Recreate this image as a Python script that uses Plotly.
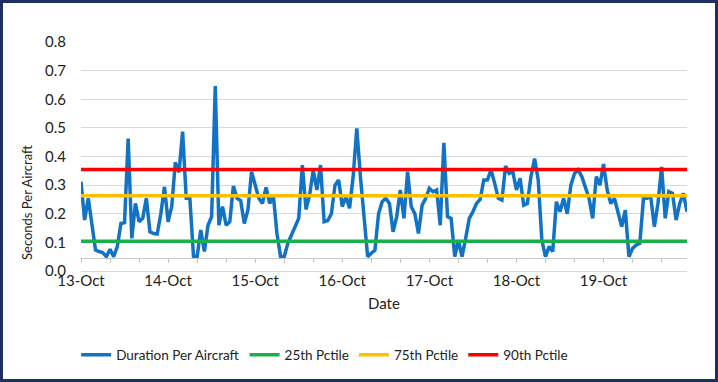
import plotly.graph_objects as go
import pandas as pd

# Hourly values, 13-Oct 00:00 to 19-Oct 23:00
duration = [
    0.312, 0.178, 0.254, 0.155, 0.073, 0.068, 0.064, 0.050, 0.076, 0.050,
    0.085, 0.166, 0.169, 0.463, 0.114, 0.236, 0.172, 0.184, 0.254, 0.137,
    0.131, 0.129, 0.200, 0.294, 0.172, 0.225, 0.380, 0.345, 0.487, 0.254,
    0.254, 0.052, 0.050, 0.143, 0.068, 0.160, 0.190, 0.646, 0.160, 0.225,
    0.160, 0.172, 0.297, 0.254, 0.246, 0.166, 0.213, 0.347, 0.295, 0.254,
    0.236, 0.292, 0.236, 0.265, 0.131, 0.050, 0.050, 0.097, 0.126, 0.155,
    0.184, 0.370, 0.215, 0.265, 0.353, 0.283, 0.370, 0.172, 0.176, 0.200,
    0.300, 0.318, 0.225, 0.260, 0.219, 0.330, 0.498, 0.330, 0.200, 0.050,
    0.062, 0.073, 0.200, 0.242, 0.254, 0.236, 0.137, 0.190, 0.283, 0.184,
    0.347, 0.225, 0.200, 0.131, 0.230, 0.254, 0.289, 0.277, 0.283, 0.160,
    0.448, 0.190, 0.184, 0.050, 0.108, 0.050, 0.114, 0.184, 0.207, 0.236,
    0.250, 0.318, 0.318, 0.353, 0.306, 0.254, 0.248, 0.367, 0.341, 0.347,
    0.283, 0.324, 0.230, 0.236, 0.330, 0.393, 0.318, 0.108, 0.050, 0.085,
    0.068, 0.242, 0.207, 0.254, 0.200, 0.300, 0.341, 0.353, 0.330, 0.295,
    0.254, 0.184, 0.330, 0.300, 0.374, 0.283, 0.236, 0.254, 0.207, 0.155,
    0.213, 0.050, 0.079, 0.091, 0.097, 0.254, 0.254, 0.260, 0.155, 0.236,
    0.364, 0.184, 0.277, 0.271, 0.178, 0.236, 0.271, 0.207,
]
pct25 = 0.104
pct75 = 0.263
pct90 = 0.355

times = pd.date_range("2023-10-13 00:00", periods=len(duration), freq="h")
y_ticks = [0.0, 0.1, 0.2, 0.3, 0.4, 0.5, 0.6, 0.7, 0.8]

FONT = "Lato, Carlito, Calibri, sans-serif"
W, H = 718, 382
ML, MR, MT, MB = 81, 31, 42, 111
PW, PH = W - ML - MR, H - MT - MB

fig = go.Figure()
fig.add_trace(go.Scatter(x=times, y=duration, mode="lines", name="Duration Per Aircraft",
                         line=dict(color="#1273C4", width=3.5)))
fig.add_trace(go.Scatter(x=times, y=[pct25] * len(times), mode="lines", name="25th Pctile",
                         line=dict(color="#19B04B", width=3.5)))
fig.add_trace(go.Scatter(x=times, y=[pct75] * len(times), mode="lines", name="75th Pctile",
                         line=dict(color="#FFC000", width=3.5)))
fig.add_trace(go.Scatter(x=times, y=[pct90] * len(times), mode="lines", name="90th Pctile",
                         line=dict(color="#FF0000", width=3.5)))

fig.update_layout(
    width=W, height=H,
    margin=dict(l=ML, r=MR, t=MT, b=MB),
    paper_bgcolor="white", plot_bgcolor="white",
    font=dict(family=FONT, color="#3a3a3a", size=14),
    showlegend=True,
    legend=dict(orientation="h", x=-0.008, xanchor="left", y=-0.367, yanchor="middle",
                font=dict(size=13.5, color="#222222"), itemwidth=30),
    xaxis=dict(
        type="date",
        range=[times[0], times[-1]],
        anchor="free", position=13 / PH,
        showline=True, linecolor="#c8c8c8", linewidth=1,
        showgrid=False, zeroline=False,
        ticks="outside", ticklen=4, tickcolor="#c8c8c8",
        dtick=86400000, tick0="2023-10-13", tickformat="%-d-%b",
        minor=dict(ticks="outside", ticklen=4, tickcolor="#c8c8c8", dtick=8 * 3600000,
                   tick0="2023-10-13", showgrid=False),
        ticklabelstandoff=5,
        tickfont=dict(size=15, color="#222222"),
    ),
    yaxis=dict(
        range=[0, 0.8],
        tickvals=y_ticks, tickformat=".1f",
        showgrid=True, gridcolor="#d9d9d9", gridwidth=1,
        zeroline=True, zerolinecolor="#d9d9d9", zerolinewidth=1,
        showline=False, ticks="",
        ticklabelstandoff=14,
        tickfont=dict(size=15, color="#222222"),
    ),
    annotations=[
        dict(text="Seconds Per Aircraft", xref="paper", yref="paper",
             x=(27 - ML) / PW, y=(MT + PH - 203) / PH, textangle=-90,
             showarrow=False, font=dict(size=13, color="#222222"),
             xanchor="center", yanchor="middle"),
        dict(text="Date", xref="paper", yref="paper",
             x=0.5, y=(MT + PH - 303) / PH, showarrow=False,
             font=dict(size=15, color="#222222"), xanchor="center", yanchor="middle"),
    ],
    shapes=[
        dict(type="rect", xref="paper", yref="paper", layer="above",
             x0=(1.5 - ML) / PW, x1=(W - 1.5 - ML) / PW,
             y0=(MT + PH - (H - 1.5)) / PH, y1=(MT + PH - 1.5) / PH,
             line=dict(color="#1c2f5e", width=3), fillcolor="rgba(0,0,0,0)"),
    ],
)

fig.write_html("out.html", config={"displayModeBar": False},
               post_script="document.body.style.margin='0';document.body.style.overflow='hidden';")
